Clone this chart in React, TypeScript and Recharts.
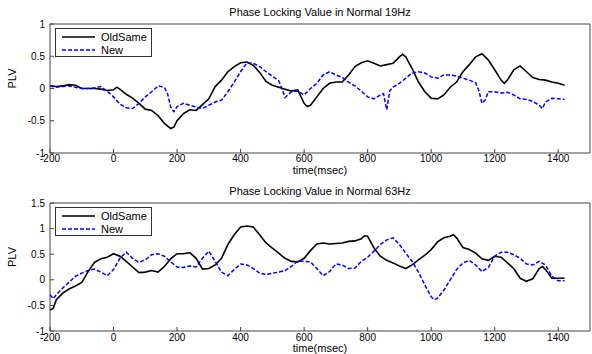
import React from 'react';
import { LineChart, Line, XAxis, YAxis, Legend } from 'recharts';

// 19Hz panel
const oldTime19 = [-200, -180, -160, -140, -120, -100, -80, -60, -40, -20, 0, 10, 20, 40, 60, 80, 100, 120, 140, 160, 180, 190, 200, 220, 240, 260, 280, 300, 320, 340, 360, 380, 400, 420, 440, 460, 480, 500, 520, 540, 560, 580, 600, 610, 620, 640, 660, 680, 700, 720, 740, 760, 780, 800, 820, 840, 860, 880, 900, 910, 920, 940, 960, 980, 1000, 1020, 1040, 1060, 1080, 1100, 1120, 1140, 1160, 1180, 1200, 1220, 1230, 1240, 1260, 1280, 1300, 1320, 1340, 1360, 1380, 1400, 1420];
const oldSame19 = [0.04, 0.03, 0.04, 0.06, 0.05, 0.0, 0.0, 0.0, -0.01, -0.03, -0.02, 0.02, -0.01, -0.09, -0.15, -0.23, -0.32, -0.34, -0.42, -0.54, -0.62, -0.6, -0.5, -0.39, -0.33, -0.34, -0.25, -0.16, 0.03, 0.13, 0.26, 0.34, 0.4, 0.41, 0.36, 0.25, 0.11, 0.05, 0.02, -0.01, -0.04, -0.02, -0.23, -0.28, -0.26, -0.13, 0.0, 0.08, 0.1, 0.1, 0.21, 0.34, 0.4, 0.43, 0.39, 0.35, 0.37, 0.39, 0.49, 0.53, 0.49, 0.31, 0.1, -0.05, -0.15, -0.16, -0.1, 0.02, 0.1, 0.26, 0.37, 0.49, 0.54, 0.44, 0.29, 0.13, 0.08, 0.13, 0.29, 0.35, 0.26, 0.17, 0.14, 0.13, 0.1, 0.08, 0.05];

const newTime19 = [-200, -180, -160, -140, -120, -100, -80, -60, -40, -20, 0, 20, 40, 60, 80, 100, 120, 140, 160, 170, 180, 190, 200, 220, 240, 260, 280, 300, 320, 340, 360, 380, 400, 420, 440, 460, 480, 500, 520, 530, 540, 560, 580, 600, 620, 640, 660, 680, 700, 720, 740, 760, 780, 800, 820, 840, 850, 860, 870, 880, 900, 920, 940, 960, 980, 1000, 1020, 1040, 1060, 1080, 1100, 1120, 1140, 1150, 1160, 1170, 1180, 1200, 1220, 1240, 1260, 1280, 1300, 1320, 1340, 1350, 1360, 1380, 1400, 1420];
const new19 = [0.04, 0.02, 0.03, 0.04, 0.02, 0.0, 0.0, 0.01, 0.03, -0.04, -0.13, -0.24, -0.3, -0.31, -0.23, -0.13, -0.05, 0.04, 0.02, -0.08, -0.29, -0.36, -0.28, -0.23, -0.26, -0.29, -0.31, -0.26, -0.21, -0.18, -0.05, 0.1, 0.26, 0.4, 0.39, 0.34, 0.26, 0.19, 0.12, 0.0, -0.14, -0.05, -0.04, -0.1, 0.0, 0.08, 0.21, 0.26, 0.21, 0.17, 0.1, 0.04, -0.04, -0.13, -0.16, -0.1, -0.08, -0.33, -0.03, 0.02, 0.08, 0.16, 0.24, 0.26, 0.24, 0.18, 0.16, 0.21, 0.21, 0.19, 0.16, 0.13, 0.09, -0.03, -0.23, -0.18, -0.05, -0.05, -0.07, -0.06, -0.1, -0.16, -0.17, -0.2, -0.26, -0.31, -0.21, -0.15, -0.16, -0.17];

// 63Hz panel
const oldTime63 = [-200, -190, -180, -160, -140, -120, -100, -80, -60, -40, -20, 0, 20, 40, 60, 80, 100, 120, 140, 160, 180, 200, 220, 240, 260, 280, 300, 320, 340, 360, 380, 400, 420, 440, 460, 480, 500, 520, 540, 560, 580, 600, 620, 640, 660, 680, 700, 720, 740, 760, 780, 790, 800, 820, 840, 860, 880, 900, 920, 940, 960, 980, 1000, 1020, 1040, 1060, 1070, 1080, 1100, 1120, 1140, 1160, 1180, 1200, 1220, 1240, 1260, 1280, 1300, 1320, 1340, 1350, 1360, 1380, 1400, 1420];
const oldSame63 = [-0.59, -0.56, -0.39, -0.26, -0.18, -0.12, -0.05, 0.16, 0.34, 0.41, 0.44, 0.51, 0.46, 0.36, 0.25, 0.14, 0.15, 0.18, 0.15, 0.26, 0.41, 0.51, 0.51, 0.53, 0.42, 0.21, 0.22, 0.29, 0.42, 0.69, 0.88, 1.03, 1.05, 1.03, 0.88, 0.72, 0.62, 0.52, 0.42, 0.36, 0.35, 0.42, 0.57, 0.7, 0.72, 0.7, 0.71, 0.72, 0.75, 0.76, 0.8, 0.86, 0.85, 0.62, 0.46, 0.38, 0.33, 0.27, 0.22, 0.29, 0.39, 0.48, 0.59, 0.74, 0.82, 0.85, 0.88, 0.82, 0.63, 0.59, 0.52, 0.41, 0.38, 0.46, 0.44, 0.33, 0.22, 0.03, -0.03, 0.02, 0.22, 0.26, 0.2, 0.03, 0.03, 0.03];

const newTime63 = [-200, -190, -180, -160, -140, -120, -100, -80, -60, -40, -20, 0, 20, 40, 60, 80, 100, 120, 140, 160, 180, 200, 220, 240, 260, 280, 300, 320, 340, 360, 380, 400, 420, 440, 460, 480, 500, 520, 540, 560, 580, 600, 620, 640, 660, 680, 700, 720, 740, 760, 780, 800, 820, 840, 860, 880, 900, 920, 940, 960, 980, 1000, 1010, 1020, 1040, 1060, 1080, 1100, 1120, 1140, 1160, 1180, 1200, 1220, 1240, 1260, 1280, 1300, 1320, 1340, 1360, 1380, 1400, 1420];
const new63 = [-0.29, -0.37, -0.29, -0.16, -0.05, 0.07, 0.13, 0.18, 0.21, 0.15, 0.08, 0.2, 0.42, 0.54, 0.42, 0.34, 0.39, 0.49, 0.51, 0.46, 0.35, 0.25, 0.24, 0.27, 0.25, 0.42, 0.56, 0.36, 0.15, 0.08, 0.2, 0.31, 0.29, 0.22, 0.13, 0.1, 0.13, 0.15, 0.18, 0.26, 0.37, 0.36, 0.35, 0.22, 0.08, 0.16, 0.31, 0.29, 0.22, 0.23, 0.36, 0.44, 0.56, 0.69, 0.78, 0.82, 0.69, 0.52, 0.36, 0.15, -0.1, -0.33, -0.39, -0.36, -0.2, 0.0, 0.2, 0.33, 0.38, 0.29, 0.16, 0.24, 0.46, 0.54, 0.54, 0.49, 0.42, 0.31, 0.29, 0.36, 0.29, 0.07, -0.02, -0.02];

const xTicks = [-200, 0, 200, 400, 600, 800, 1000, 1200, 1400];
const yTicks19 = [-1, -0.5, 0, 0.5, 1];
const yTicks63 = [-1, -0.5, 0, 0.5, 1, 1.5];

const FONT = '"Liberation Sans", Arial, sans-serif';
const FRAME = '#444';

const zip = (t: number[], v: number[]) => t.map((x, i) => ({ t: x, v: v[i] }));

const LegendBox = () => (
	<div style={{ border: '1px solid #333', background: '#fff', width: 97, height: 29, boxSizing: 'border-box', fontFamily: FONT, fontSize: 11, color: '#000', paddingTop: 1 }}>
		<div style={{ display: 'flex', alignItems: 'center', height: 13 }}>
			<svg width={45} height={8}><line x1={6} x2={39} y1={4} y2={4} stroke="#000" strokeWidth={1.6} /></svg>
			<span>OldSame</span>
		</div>
		<div style={{ display: 'flex', alignItems: 'center', height: 13 }}>
			<svg width={45} height={8}><line x1={6} x2={39} y1={4} y2={4} stroke="#0000ff" strokeWidth={1.5} strokeDasharray="4 2" /></svg>
			<span>New</span>
		</div>
	</div>
);

interface PanelProps {
	title: string;
	oldData: { t: number; v: number }[];
	newData: { t: number; v: number }[];
	yDomain: [number, number];
	yTicks: number[];
	top: number;
	xHeight: number;
	xTickGap: number;
	xLabelOffset: number;
}

function Panel({ title, oldData, newData, yDomain, yTicks, top, xHeight, xTickGap, xLabelOffset }: PanelProps) {
	const tickStyle = { fill: '#000', fontSize: 10, fontFamily: FONT };
	return (
		<div style={{ position: 'relative', width: 592, height: 177 }}>
			<div style={{ position: 'absolute', top: top - 18, left: 50, width: 540, textAlign: 'center', fontFamily: FONT, fontSize: 11, color: '#000' }}>{title}</div>
			<LineChart width={592} height={177} margin={{ top: top - 1, right: 1, bottom: 0, left: 0 }}>
				<XAxis
					dataKey="t"
					type="number"
					domain={[-200, 1500]}
					ticks={xTicks}
					allowDuplicatedCategory={false}
					height={xHeight}
					tickSize={-4}
					tickMargin={xTickGap}
					tick={tickStyle}
					stroke={FRAME}
					label={{ value: 'time(msec)', position: 'insideBottom', offset: xLabelOffset, fill: '#000', fontSize: 11, fontFamily: FONT }}
				/>
				<XAxis xAxisId="top" orientation="top" type="number" domain={[-200, 1500]} ticks={xTicks} height={1} tickSize={-4} tick={false} stroke={FRAME} />
				<YAxis
					type="number"
					domain={yDomain}
					ticks={yTicks}
					width={50}
					tickSize={-4}
					tickMargin={9}
					tick={tickStyle}
					stroke={FRAME}
					label={{ value: 'PLV', angle: -90, position: 'insideLeft', offset: 12, fill: '#000', fontSize: 11, fontFamily: FONT }}
				/>
				<YAxis yAxisId="right" orientation="right" type="number" domain={yDomain} ticks={yTicks} width={1} tickSize={-4} tick={false} stroke={FRAME} />
				<Legend layout="vertical" align="center" verticalAlign="middle" content={<LegendBox />} wrapperStyle={{ left: 55, top: top + 4, width: 97 }} />
				<Line data={oldData} dataKey="v" name="OldSame" type="linear" stroke="#000" strokeWidth={1.6} dot={false} isAnimationActive={false} />
				<Line data={newData} dataKey="v" name="New" type="linear" stroke="#0000ff" strokeWidth={1.5} strokeDasharray="4 2" dot={false} isAnimationActive={false} />
			</LineChart>
		</div>
	);
}

export default function App() {
	return (
		<div style={{ position: 'absolute', left: 0, top: 0, width: 592, height: 354, background: '#fff' }}>
			<Panel title="Phase Locking Value in Normal 19Hz" oldData={zip(oldTime19, oldSame19)} newData={zip(newTime19, new19)} yDomain={[-1, 1]} yTicks={yTicks19} top={24} xHeight={24} xTickGap={6} xLabelOffset={3} />
			<Panel title="Phase Locking Value in Normal 63Hz" oldData={zip(oldTime63, oldSame63)} newData={zip(newTime63, new63)} yDomain={[-1, 1.5]} yTicks={yTicks63} top={26} xHeight={23} xTickGap={7} xLabelOffset={2} />
		</div>
	);
}
